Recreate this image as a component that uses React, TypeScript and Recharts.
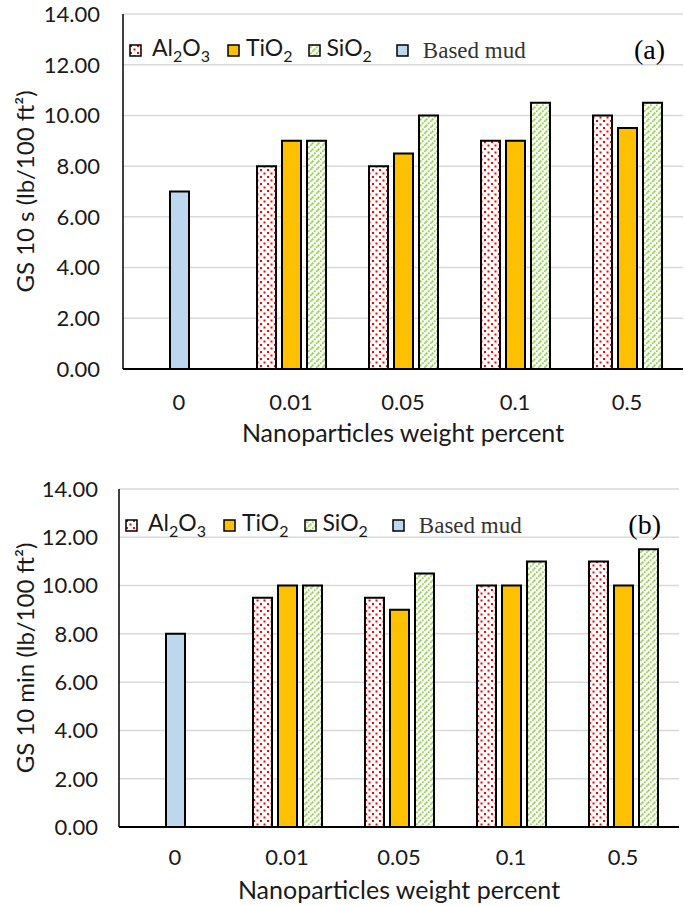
import React from 'react'
import { BarChart, Bar, XAxis, YAxis, CartesianGrid, Legend } from 'recharts'

const categories = ['0', '0.01', '0.05', '0.1', '0.5']

// (a) gel strength after 10 s
const al2o3_10s = [null, 8, 8, 9, 10]
const tio2_10s = [null, 9, 8.5, 9, 9.5]
const sio2_10s = [null, 9, 10, 10.5, 10.5]
const mud_10s = [7, null, null, null, null]

// (b) gel strength after 10 min
const al2o3_10min = [null, 9.5, 9.5, 10, 11]
const tio2_10min = [null, 10, 9, 10, 10]
const sio2_10min = [null, 10, 10.5, 11, 11.5]
const mud_10min = [8, null, null, null, null]

const yTicks = [0, 2, 4, 6, 8, 10, 12, 14]

const SANS = 'Lato, "Open Sans", sans-serif'
const SERIF = '"Liberation Serif", "Times New Roman", serif'

type Series = (number | null)[]

interface PanelProps {
  id: string
  tag: string
  yTitle: string
  al: Series
  ti: Series
  si: Series
  mud: Series
  height: number
  margin: { top: number; right: number; left: number; bottom: number }
  xAxisHeight: number
  yAxisWidth: number
  yTickMargin: number
  xTickMargin: number
  titleOffset: number
  legendTop: number
}

const Icon = ({ fill }: { fill: string }) => (
  <svg width={13} height={13} style={{ display: 'block' }}>
    <rect x={1} y={1} width={11} height={11} fill={fill} stroke="#000" strokeWidth={1.5} />
  </svg>
)

const Panel = (p: PanelProps) => {
  const data = categories.map((name, i) => ({
    name,
    al: p.al[i],
    ti: p.ti[i],
    si: p.si[i],
    mud: p.mud[i],
  }))
  const dots = `dots-${p.id}`
  const diag = `diag-${p.id}`

  const renderLegend = () => (
    <div
      style={{
        position: 'relative',
        display: 'flex',
        alignItems: 'center',
        height: 28,
        fontFamily: SANS,
        fontSize: 23,
        lineHeight: 1,
        color: '#1a1a1a',
        paddingLeft: 6,
      }}
    >
      <Icon fill={`url(#${dots})`} />
      <span style={{ marginLeft: 10 }}>
        Al<sub style={{ fontSize: 16 }}>2</sub>O<sub style={{ fontSize: 16 }}>3</sub>
      </span>
      <span style={{ marginLeft: 17 }}>
        <Icon fill="#ffc000" />
      </span>
      <span style={{ marginLeft: 6 }}>
        TiO<sub style={{ fontSize: 16 }}>2</sub>
      </span>
      <span style={{ marginLeft: 16 }}>
        <Icon fill={`url(#${diag})`} />
      </span>
      <span style={{ marginLeft: 5 }}>
        SiO<sub style={{ fontSize: 16 }}>2</sub>
      </span>
      <span style={{ marginLeft: 24 }}>
        <Icon fill="#bdd7ee" />
      </span>
      <span style={{ marginLeft: 14, fontFamily: SERIF, fontSize: 23, color: '#333' }}>Based mud</span>
      <span
        style={{
          position: 'absolute',
          right: 18,
          top: 0,
          fontFamily: SERIF,
          fontSize: 28,
          color: '#000',
        }}
      >
        {p.tag}
      </span>
    </div>
  )

  const yLabel = (props: any) => {
    const vb = props.viewBox || {}
    const cx = vb.x + 24
    const cy = vb.y + vb.height / 2
    return (
      <text
        x={cx}
        y={cy}
        transform={`rotate(-90, ${cx}, ${cy})`}
        textAnchor="middle"
        dominantBaseline="central"
        fontFamily={SANS}
        fontSize={24}
        fill="#1a1a1a"
      >
        {p.yTitle}
      </text>
    )
  }

  return (
    <BarChart
      width={685}
      height={p.height}
      data={data}
      margin={p.margin}
      barSize={19}
      barGap={6}
    >
      <defs>
        <pattern id={dots} width="7" height="7" patternUnits="userSpaceOnUse">
          <rect width="7" height="7" fill="#fff" />
          <rect x="1" y="1" width="2" height="2" fill="#ff0000" />
          <rect x="4.5" y="4.5" width="2" height="2" fill="#ff0000" />
        </pattern>
        <pattern id={diag} width="6" height="6" patternUnits="userSpaceOnUse">
          <rect width="6" height="6" fill="#fff" />
          <path
            d="M0,6 L6,0 M-1,1 L1,-1 M5,7 L7,5"
            stroke="#92d050"
            strokeWidth="1.6"
            strokeDasharray="2 1"
          />
        </pattern>
      </defs>
      <CartesianGrid vertical={false} stroke="#d9d9d9" strokeWidth={1.5} />
      <XAxis
        dataKey="name"
        height={p.xAxisHeight}
        tickLine={false}
        axisLine={{ stroke: '#000', strokeWidth: 2 }}
        tickMargin={p.xTickMargin}
        tick={{ fontSize: 22, fontFamily: SANS, fill: '#1a1a1a' }}
        label={{
          value: 'Nanoparticles weight percent',
          position: 'insideBottom',
          offset: p.titleOffset,
          fontSize: 25,
          fontFamily: SANS,
          fill: '#1a1a1a',
        }}
      />
      <XAxis
        xAxisId="top"
        dataKey="name"
        orientation="top"
        height={0}
        tick={false}
        tickLine={false}
        axisLine={{ stroke: '#000', strokeWidth: 1.5 }}
      />
      <YAxis
        domain={[0, 14]}
        ticks={yTicks}
        interval={0}
        width={p.yAxisWidth}
        tickLine={false}
        axisLine={{ stroke: '#000', strokeWidth: 1.5 }}
        tickMargin={p.yTickMargin}
        tickFormatter={(v: number) => v.toFixed(2)}
        tick={{ fontSize: 22, fontFamily: SANS, fill: '#1a1a1a' }}
        label={yLabel}
      />
      <YAxis
        yAxisId="right"
        orientation="right"
        domain={[0, 14]}
        width={0}
        tick={false}
        tickLine={false}
        axisLine={{ stroke: '#000', strokeWidth: 1.5 }}
      />
      <Legend
        layout="horizontal"
        verticalAlign="middle"
        align="center"
        content={renderLegend}
        wrapperStyle={{ top: p.legendTop, left: p.yAxisWidth, width: 560, height: 28 }}
      />
      <Bar dataKey="al" stackId="al" fill={`url(#${dots})`} stroke="#000" strokeWidth={2} isAnimationActive={false} />
      <Bar dataKey="ti" stackId="mid" fill="#ffc000" stroke="#000" strokeWidth={2} isAnimationActive={false} />
      <Bar dataKey="mud" stackId="mid" fill="#bdd7ee" stroke="#000" strokeWidth={2} isAnimationActive={false} />
      <Bar dataKey="si" stackId="si" fill={`url(#${diag})`} stroke="#000" strokeWidth={2} isAnimationActive={false} />
    </BarChart>
  )
}

export default function App() {
  return (
    <div style={{ position: 'absolute', left: 0, top: 0, width: 685, height: 906, background: '#fff' }}>
      <Panel
        id="a"
        tag="(a)"
        yTitle="GS 10 s (lb/100 ft²)"
        al={al2o3_10s}
        ti={tio2_10s}
        si={sio2_10s}
        mud={mud_10s}
        height={455}
        margin={{ top: 14, right: 2, left: 0, bottom: 0 }}
        xAxisHeight={86}
        yAxisWidth={123}
        yTickMargin={17}
        xTickMargin={19}
        titleOffset={13}
        legendTop={36}
      />
      <Panel
        id="b"
        tag="(b)"
        yTitle="GS 10 min (lb/100 ft²)"
        al={al2o3_10min}
        ti={tio2_10min}
        si={sio2_10min}
        mud={mud_10min}
        height={451}
        margin={{ top: 34, right: 6, left: 0, bottom: 0 }}
        xAxisHeight={79}
        yAxisWidth={119}
        yTickMargin={15}
        xTickMargin={16}
        titleOffset={7}
        legendTop={56}
      />
    </div>
  )
}
